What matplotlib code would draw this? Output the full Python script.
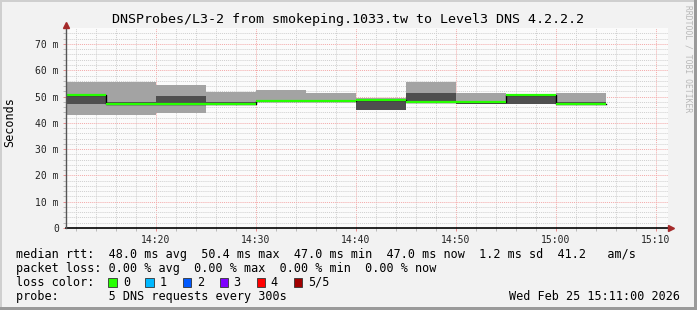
import matplotlib
matplotlib.use("Agg")
import matplotlib.pyplot as plt
from matplotlib.patches import Rectangle
import numpy as np

# ======================================================================
# data (minutes after 14:00, values in ms)
# ======================================================================
step_start = [10, 15, 20, 25, 30, 35, 40, 45, 50, 55, 60]
step_len = 5
ping_min = [43.0, 43.0, 43.9, 47.0, 48.0, 48.0, 44.8, 47.8, 47.2, 47.2, 47.0]
ping_lo = [47.2, 47.2, 47.2, 47.3, 48.1, 48.1, 45.0, 48.0, 47.3, 47.2, 47.6]
median = [50.4, 47.2, 47.2, 47.2, 48.3, 48.2, 48.5, 48.0, 47.8, 50.4, 47.0]
ping_hi = [50.3, 47.8, 50.3, 47.8, 48.6, 48.5, 48.4, 51.2, 47.9, 50.3, 47.9]
ping_max = [55.4, 55.4, 54.4, 51.6, 52.4, 51.5, 49.6, 55.6, 51.2, 50.5, 51.2]

xmajor = [20, 30, 40, 50, 60, 70]
xlabels = ["14:20", "14:30", "14:40", "14:50", "15:00", "15:10"]
ymajor = [0, 10, 20, 30, 40, 50, 60, 70]
ylabels = ["0", "10 m", "20 m", "30 m", "40 m", "50 m", "60 m", "70 m"]

loss_labels = ["0", "1", "2", "3", "4", "5/5"]
loss_colors = ["#26ff00", "#00b8ff", "#0059ff", "#7e00ff", "#ff0000", "#a10000"]

title = "DNSProbes/L3-2 from smokeping.1033.tw to Level3 DNS 4.2.2.2"
line_rtt = "median rtt:  48.0 ms avg  50.4 ms max  47.0 ms min  47.0 ms now  1.2 ms sd  41.2   am/s"
line_loss = "packet loss: 0.00 % avg  0.00 % max  0.00 % min  0.00 % now"
line_probe = "probe:       5 DNS requests every 300s"
stamp = "Wed Feb 25 15:11:00 2026"

# ======================================================================
W, H = 697, 310
MONO = "DejaVu Sans Mono"
fig = plt.figure(figsize=(W / 100, H / 100), dpi=100, facecolor="#f2f2f2")

def fx(px):
    return px / W

def fy(py):
    return 1 - py / H

# frame (light top/left, dark bottom/right)
fig.add_artist(Rectangle((0, fy(2)), 1, 2 / H, transform=fig.transFigure, color="#cfcfcf", lw=0))
fig.add_artist(Rectangle((0, 0), 2 / W, 1, transform=fig.transFigure, color="#cfcfcf", lw=0))
fig.add_artist(Rectangle((0, 0), 1, 3 / H, transform=fig.transFigure, color="#9a9a9a", lw=0))
fig.add_artist(Rectangle((fx(W - 3), 0), 3 / W, 1, transform=fig.transFigure, color="#9a9a9a", lw=0))

left, right, top, bottom = 66, 668, 28, 228
ax = fig.add_axes([fx(left), fy(bottom), fx(right - left), (bottom - top) / H])
ax.set_facecolor("#fbfbfb")
ax.set_xlim(11, 71.2)
ax.set_ylim(0, (bottom - top) / 2.629)

# grid
ax.set_xticks(xmajor)
ax.set_xticklabels(xlabels)
ax.set_xticks(np.arange(12, 71, 2), minor=True)
ax.set_yticks(ymajor)
ax.set_yticklabels(ylabels)
ax.set_yticks(np.arange(2, 76, 2), minor=True)
ax.grid(which="minor", color="#cfcfcf", ls=(0, (1, 1)), lw=0.7)
ax.grid(which="major", color="#f4a8a8", ls=(0, (1, 1)), lw=0.7)
ax.set_axisbelow(True)
ax.tick_params(which="both", direction="out", length=2.2, width=0.7, color="#e88c8c",
               labelsize=7, pad=3)
ax.tick_params(which="minor", color="#bbbbbb")
for lab in ax.get_xticklabels() + ax.get_yticklabels():
    lab.set_family(MONO)
    lab.set_color("#222222")

for s in ["top", "right"]:
    ax.spines[s].set_visible(False)
ax.spines["bottom"].set_color("black")
ax.spines["bottom"].set_linewidth(1.2)
ax.spines["left"].set_color("#555555")
ax.spines["left"].set_linewidth(1.0)
ax.spines["left"].set_bounds(0, 77.5)
ax.spines["left"].set_zorder(5)

# arrows
ax.plot([0], [1.015], marker="^", ms=5, color="#a52a2a", transform=ax.transAxes, clip_on=False, zorder=6)
ax.plot([1.005], [0], marker=">", ms=5, color="#a52a2a", transform=ax.transAxes, clip_on=False, zorder=6)

# smoke
for i, x0 in enumerate(step_start):
    ax.fill_between([x0, x0 + step_len], ping_min[i], ping_max[i], color="#a3a3a3", lw=0, zorder=2)
    ax.fill_between([x0, x0 + step_len], ping_lo[i], ping_hi[i], color="#4f4f4f", lw=0, zorder=3)

# median: black step, green segments
mx = step_start + [step_start[-1] + step_len]
my = median + [median[-1]]
ax.step(mx, my, where="post", color="black", lw=1.0, zorder=4)
ax.hlines(median, step_start, np.array(step_start) + step_len, color="#26ff00", lw=1.6, zorder=4.5)

# texts
ax.set_ylabel("Seconds", family=MONO, fontsize=8.5)
ax.yaxis.set_label_coords((16 - left) / (right - left), 0.53)
fig.text(fx(348), fy(19), title, family=MONO, fontsize=9.6, ha="center", va="center")
fig.text(fx(688), fy(5), "RRDTOOL / TOBI OETIKER", family=MONO, fontsize=5.8,
         color="#b8b8b8", rotation=-90, ha="center", va="top")

fig.text(fx(16), fy(254.3), line_rtt, family=MONO, fontsize=8.5, va="center")
fig.text(fx(16), fy(268.3), line_loss, family=MONO, fontsize=8.5, va="center")
fig.text(fx(16), fy(282.3), "loss color:", family=MONO, fontsize=8.5, va="center")
fig.text(fx(16), fy(296.2), line_probe, family=MONO, fontsize=8.5, va="center")
fig.text(fx(680), fy(296.2), stamp, family=MONO, fontsize=8.5, va="center", ha="right")

sq_x = [108, 145, 182.5, 219.5, 256.5, 293.5]
lab_x = [123, 160, 197, 233, 270.5, 308]
for sx, lx, lab, c in zip(sq_x, lab_x, loss_labels, loss_colors):
    fig.add_artist(Rectangle((fx(sx), fy(286.7)), 8.5 / W, 8.5 / H, transform=fig.transFigure,
                             facecolor=c, edgecolor="#333333", lw=0.6))
    fig.text(fx(lx), fy(282.3), lab, family=MONO, fontsize=8.5, va="center")

fig.savefig("out.png", dpi=100, facecolor=fig.get_facecolor())
